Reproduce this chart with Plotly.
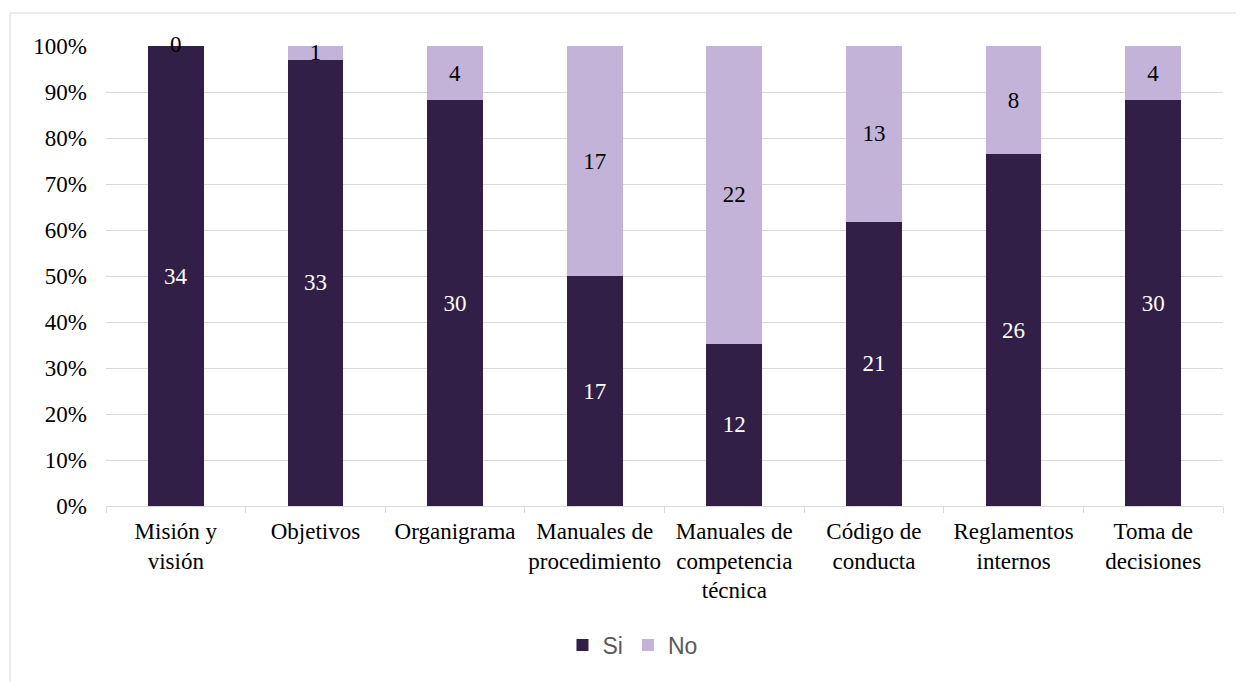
import plotly.graph_objects as go

categories = ["Misión y<br>visión", "Objetivos", "Organigrama", "Manuales de<br>procedimiento",
              "Manuales de<br>competencia<br>técnica", "Código de<br>conducta",
              "Reglamentos<br>internos", "Toma de<br>decisiones"]
si_values = [34, 33, 30, 17, 12, 21, 26, 30]
no_values = [0, 1, 4, 17, 22, 13, 8, 4]
y_ticks = [0, 10, 20, 30, 40, 50, 60, 70, 80, 90, 100]
y_tick_labels = [f"{v}%" for v in y_ticks]

totals = [s + n for s, n in zip(si_values, no_values)]
si_pct = [s / t * 100 for s, t in zip(si_values, totals)]
no_pct = [n / t * 100 for n, t in zip(no_values, totals)]

SERIF = "Liberation Serif, Times New Roman, serif"
SANS = "Liberation Sans, Arial, sans-serif"
DARK = "#321F47"
LIGHT = "#C3B3D9"
GRID = "#D9D9D9"
FS = 23

fig = go.Figure()
fig.add_trace(go.Bar(
    name="Si", x=categories, y=si_pct, marker=dict(color=DARK, line=dict(width=0)),
    text=[str(v) for v in si_values], textposition="inside", insidetextanchor="middle",
    constraintext="none", textangle=0,
    insidetextfont=dict(family=SERIF, size=FS, color="white"), hoverinfo="skip"))
fig.add_trace(go.Bar(
    name="No", x=categories, y=no_pct, marker=dict(color=LIGHT, line=dict(width=0)),
    text=[str(v) for v in no_values], textposition="inside", insidetextanchor="middle",
    constraintext="none", textangle=0, cliponaxis=False,
    insidetextfont=dict(family=SERIF, size=FS, color="black"), hoverinfo="skip"))

# labels for zero-height segments (centered at the stack top)
zero_x = [c for c, n in zip(categories, no_values) if n == 0]
zero_y = [s + n for s, n, v in zip(si_pct, no_pct, no_values) if v == 0]
zero_t = [str(v) for v in no_values if v == 0]
fig.add_trace(go.Scatter(
    x=zero_x, y=zero_y, text=zero_t, mode="text", textposition="middle center",
    textfont=dict(family=SERIF, size=FS, color="black"), showlegend=False,
    hoverinfo="skip", cliponaxis=False))

W, H = 1244, 682
L, R, T, B = 98, 29, 38, 184
pw, ph = W - L - R, H - T - B

fig.update_layout(
    width=W, height=H, barmode="stack", bargap=0.6,
    margin=dict(l=L, r=R, t=T, b=B, autoexpand=False),
    plot_bgcolor="white", paper_bgcolor="white",
    font=dict(family=SERIF, size=FS, color="black"),
    showlegend=True,
    legend=dict(orientation="h", xref="container", yref="container",
                x=0.502, xanchor="center", y=0.066, yanchor="middle",
                font=dict(family=SANS, size=23, color="#595959"),
                traceorder="normal", itemwidth=30, bgcolor="rgba(0,0,0,0)"),
    xaxis=dict(showgrid=False, showline=True, linecolor=GRID, linewidth=1,
               ticks="outside", tickson="boundaries", ticklen=6, tickcolor=GRID,
               ticklabelstandoff=4,
               tickfont=dict(family=SERIF, size=FS, color="black"), tickangle=0),
    yaxis=dict(range=[0, 100], tickmode="array", tickvals=y_ticks, ticktext=y_tick_labels,
               showgrid=True, gridcolor=GRID, gridwidth=1, zeroline=False, showline=False,
               ticklabelstandoff=18,
               tickfont=dict(family=SERIF, size=FS, color="black")),
    shapes=[dict(type="rect", xref="paper", yref="paper", layer="below",
                 x0=(2 - L) / pw, x1=(W + 20 - L) / pw,
                 y0=-(H + 20 - T - ph) / ph, y1=(H - B - 5) / ph,
                 line=dict(color=GRID, width=1), fillcolor="rgba(0,0,0,0)")],
)

fig.write_html("out.html")
